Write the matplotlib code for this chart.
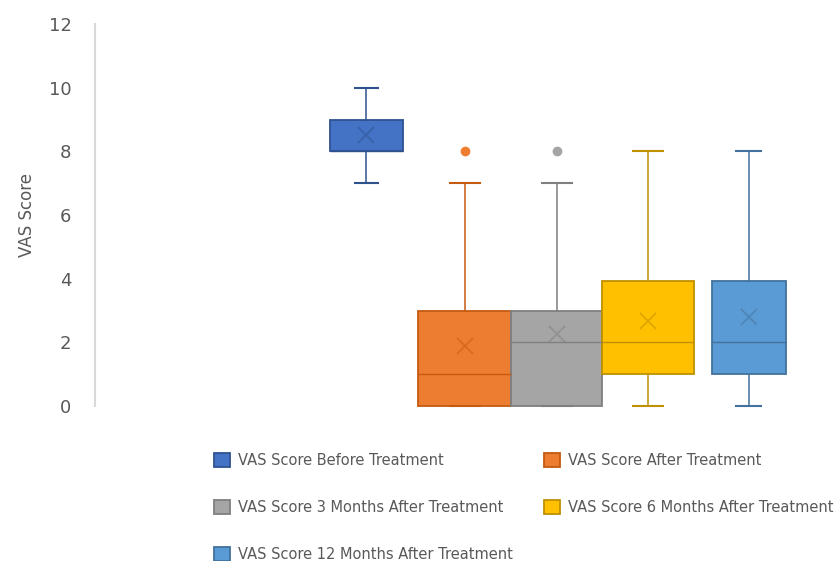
import matplotlib.pyplot as plt
from matplotlib.patches import Patch

# box plot values (VAS scores)
labels = ['VAS Score Before Treatment', 'VAS Score After Treatment',
          'VAS Score 3 Months After Treatment', 'VAS Score 6 Months After Treatment',
          'VAS Score 12 Months After Treatment']
q1 = [8, 0, 0, 1, 1]
medians = [8, 1, 2, 2, 2]
q3 = [9, 3, 3, 3.93, 3.93]
whis_lo = [7, 0, 0, 0, 0]
whis_hi = [10, 7, 7, 8, 8]
means = [8.5, 1.9, 2.25, 2.67, 2.8]
outliers = [[], [8], [8], [], []]

fills = ['#4472C4', '#ED7D31', '#A5A5A5', '#FFC000', '#5B9BD5']
edges = ['#2F528F', '#C55A11', '#7F7F7F', '#BF9000', '#41719C']

# layout (pixel-like x units, axis spans 744 px)
positions = [271, 369.5, 461.5, 553, 653.5]
widths = [73, 93, 91, 92, 74]
capwidths = [23, 30, 30, 30, 25]

grey = '#595959'

fig = plt.figure(figsize=(8.39, 5.61), dpi=100)
ax = fig.add_axes([95 / 839, 1 - 406 / 561, 744 / 839, 382 / 561])

for i in range(len(labels)):
    st = dict(med=medians[i], q1=q1[i], q3=q3[i], whislo=whis_lo[i],
              whishi=whis_hi[i], fliers=outliers[i], mean=means[i])
    parts = ax.bxp([st], positions=[positions[i]], widths=[widths[i]],
                   capwidths=[capwidths[i]], patch_artist=True, showmeans=True,
                   boxprops=dict(facecolor=fills[i], edgecolor=edges[i], linewidth=1.3),
                   medianprops=dict(color=edges[i], linewidth=1.0),
                   whiskerprops=dict(color=edges[i], linewidth=1.1),
                   capprops=dict(color=edges[i], linewidth=1.5),
                   meanprops=dict(marker='x', markersize=12, markeredgecolor=edges[i],
                                  markeredgewidth=1.3, alpha=0.5),
                   flierprops=dict(marker='o', markerfacecolor=fills[i],
                                   markeredgecolor=fills[i], markersize=6))
    for arts in parts.values():
        for a in arts:
            a.set_clip_on(False)

ax.set_xlim(0, 744)
ax.set_ylim(0, 12)
ax.set_yticks([0, 2, 4, 6, 8, 10, 12])
ax.set_xticks([])
for s in ['top', 'right', 'bottom']:
    ax.spines[s].set_visible(False)
ax.spines['left'].set_color('#d9d9d9')
ax.spines['left'].set_linewidth(1.5)
ax.tick_params(axis='y', length=0, labelsize=13, labelcolor=grey, pad=17)
ax.set_ylabel('VAS Score', fontsize=12, color=grey)
ax.yaxis.set_label_coords(-0.079, 0.5)

handles = [Patch(facecolor=fills[i], edgecolor=edges[i], linewidth=1.3) for i in range(5)]
order = [0, 2, 4, 1, 3]
fig.legend([handles[i] for i in order], [labels[i] for i in order],
           loc='upper left', bbox_to_anchor=(214 / 839, 1 - 453 / 561),
           ncol=2, frameon=False, fontsize=10.5, labelcolor=grey,
           handlelength=1.1, handleheight=1.1, handletextpad=0.55,
           labelspacing=2.2, columnspacing=2.15, borderpad=0, borderaxespad=0)

fig.savefig('out.png', dpi=100)
